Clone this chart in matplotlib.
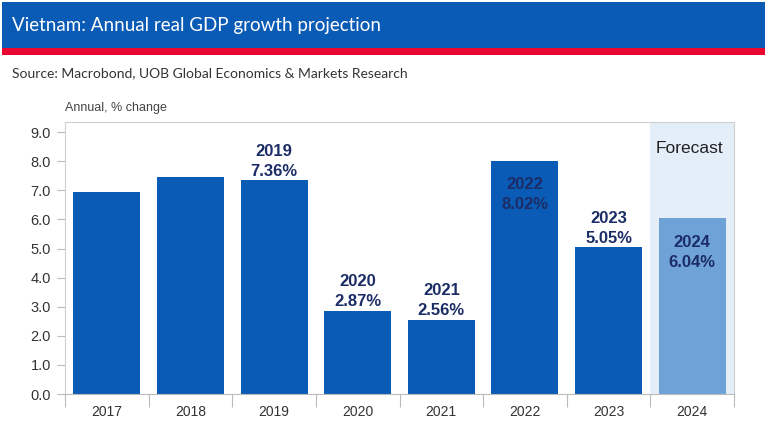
import matplotlib
matplotlib.use("Agg")
import matplotlib.pyplot as plt
from matplotlib.patches import Rectangle

years = ["2017", "2018", "2019", "2020", "2021", "2022", "2023", "2024"]
growth = [6.94, 7.47, 7.36, 2.87, 2.56, 8.02, 5.05, 6.04]
is_forecast = [False, False, False, False, False, False, False, True]
# label placement: None = no label, "above" / "inside"
label_pos = [None, None, "above", "above", "above", "inside", "above", "inside"]
yticks = [0, 1, 2, 3, 4, 5, 6, 7, 8, 9]

title = "Vietnam: Annual real GDP growth projection"
source = "Source: Macrobond, UOB Global Economics & Markets Research"
ylabel = "Annual, % change"

BLUE = "#0a5bb5"
LIGHT = "#6fa3d8"
SHADE = "#e4eef8"
NAVY = "#1b2c66"

plt.rcParams['font.family'] = ['Liberation Sans', 'DejaVu Sans']

fig = plt.figure(figsize=(7.68, 4.22), dpi=100)
W, H = 768, 422

# banner
fig.patches.append(Rectangle((2 / W, 1 - 48 / H), 763 / W, 46 / H, transform=fig.transFigure,
                             facecolor="#0a5bb5", edgecolor="none", zorder=0))
fig.patches.append(Rectangle((2 / W, 1 - 55 / H), 763 / W, 7 / H, transform=fig.transFigure,
                             facecolor="#e8082f", edgecolor="none", zorder=0))
fig.text(12 / W, 1 - 26 / H, title, color="white", fontsize=13.5, va="center", ha="left",
         family=['Lato', 'DejaVu Sans'])
fig.text(12 / W, 1 - 73 / H, source, color="#333333", fontsize=10, va="center", ha="left",
         family=['Lato', 'DejaVu Sans'])
fig.text(65 / W, 1 - 108 / H, ylabel, color="#444444", fontsize=9, va="center", ha="left")

ax = fig.add_axes([65 / W, 1 - 394 / H, 669 / W, 272 / H])
x = list(range(len(years)))
colors = [LIGHT if f else BLUE for f in is_forecast]
bars = ax.bar(x, growth, width=0.8, color=colors, zorder=2)

ax.set_xlim(-0.5, len(years) - 0.5)
ax.set_ylim(0, 9.35)

# forecast shading
for i, f in enumerate(is_forecast):
    if f:
        ax.axvspan(i - 0.5, i + 0.5, color=SHADE, zorder=0, lw=0)
ax.text(len(years) - 0.5 - 0.13, 8.45, "Forecast", ha="right", va="center",
        fontsize=12.5, color="#222222")

for i, (b, v, p) in enumerate(zip(bars, growth, label_pos)):
    if p is None:
        continue
    txt = f"{years[i]}\n{v:.2f}%"
    if p == "above":
        ax.annotate(txt, (i, v), xytext=(0, 1), textcoords="offset points",
                    ha="center", va="bottom", fontsize=12, fontweight="bold",
                    color=NAVY, linespacing=1.4, zorder=3)
    else:
        ax.annotate(txt, (i, v), xytext=(0, -12), textcoords="offset points",
                    ha="center", va="top", fontsize=12, fontweight="bold",
                    color=NAVY, linespacing=1.4, zorder=3)

ax.set_yticks(yticks)
ax.set_yticklabels([f"{t:.1f}" for t in yticks])
ax.set_xticks(x)
ax.set_xticklabels(years)
ax.tick_params(axis="x", length=0, pad=8, labelsize=10, colors="#333333")
ax.tick_params(axis="y", length=6, width=0.8, color="#bbbbbb", labelsize=10.5,
               labelcolor="#333333", pad=4)
# category boundary ticks
ax.set_xticks([i - 0.5 for i in range(len(years) + 1)], minor=True)
ax.tick_params(axis="x", which="minor", length=9, width=0.8, color="#bbbbbb")

for s in ax.spines.values():
    s.set_color("#d0d0d0")
    s.set_linewidth(0.8)
ax.spines["bottom"].set_color("#bbbbbb")

fig.savefig("out.png", dpi=100)
